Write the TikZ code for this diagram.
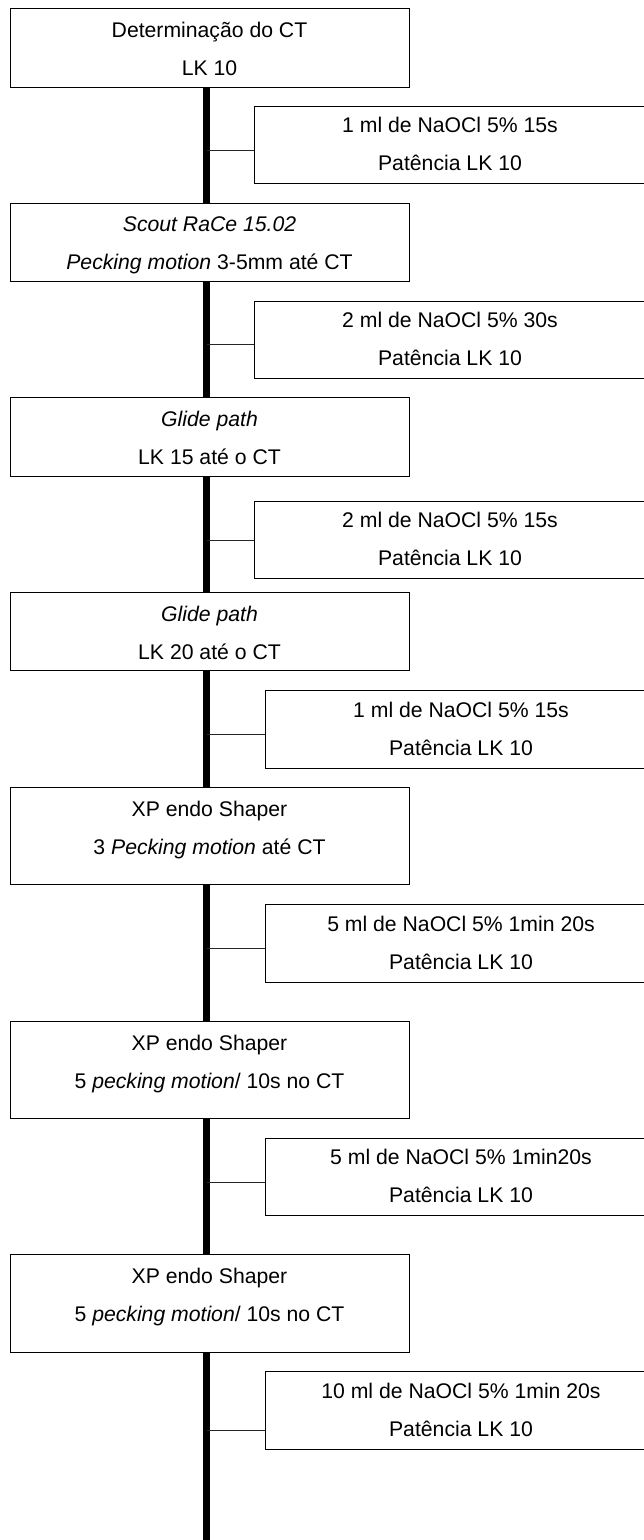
\documentclass[tikz,border=0pt]{standalone}
\usepackage{fontspec}
\setmainfont{Liberation Sans}
\begin{document}
\begin{tikzpicture}[x=1pt,y=-1pt,
  lbox/.style={draw, line width=1.3pt, rectangle, inner sep=0pt, anchor=north west, minimum width=399pt},
  rbox/.style={draw, line width=1.3pt, rectangle, inner sep=0pt, anchor=north west, minimum width=392pt, minimum height=77.5pt},
  txt/.style={anchor=base, inner sep=0pt, font=\fontsize{21.2}{25}\selectfont},
  spine/.style={line width=7pt},
  link/.style={line width=1pt, black!85}]
\useasboundingbox (0,0) rectangle (644,1540);
\clip (0,0) rectangle (644,1540);

% left (main) boxes
\node[lbox, minimum height=79pt]   (b1) at (10,8) {};
\node[lbox, minimum height=78.5pt] (b2) at (10,202.5) {};
\node[lbox, minimum height=79pt]   (b3) at (10,397) {};
\node[lbox, minimum height=78pt]   (b4) at (10,592) {};
\node[lbox, minimum height=97pt]   (b5) at (10,787) {};
\node[lbox, minimum height=97pt]   (b6) at (10,1021) {};
\node[lbox, minimum height=98pt]   (b7) at (10,1254) {};

\node[txt] (b1a) at (209.5,37) {Determinação do CT};
\node[txt] (b1b) at (209.5,75) {LK 10};
\node[txt] (b2a) at (209.5,231.5) {\textit{Scout RaCe 15.02}};
\node[txt] (b2b) at (209.5,269.5) {\textit{Pecking motion} 3-5mm até CT};
\node[txt] (b3a) at (209.5,426) {\textit{Glide path}};
\node[txt] (b3b) at (209.5,464) {LK 15 até o CT};
\node[txt] (b4a) at (209.5,621) {\textit{Glide path}};
\node[txt] (b4b) at (209.5,659) {LK 20 até o CT};
\node[txt] (b5a) at (209.5,816) {XP endo Shaper};
\node[txt] (b5b) at (209.5,854) {3 \textit{Pecking motion} até CT};
\node[txt] (b6a) at (209.5,1050) {XP endo Shaper};
\node[txt] (b6b) at (209.5,1088) {5 \textit{pecking motion}/ 10s no CT};
\node[txt] (b7a) at (209.5,1283) {XP endo Shaper};
\node[txt] (b7b) at (209.5,1321) {5 \textit{pecking motion}/ 10s no CT};

% right (irrigation) boxes
\node[rbox] (r1) at (254,105.5) {};
\node[rbox] (r2) at (254,300.5) {};
\node[rbox] (r3) at (254,500.5) {};
\node[rbox] (r4) at (265,690) {};
\node[rbox] (r5) at (265,904) {};
\node[rbox] (r6) at (265,1137.5) {};
\node[rbox] (r7) at (265,1371) {};

\node[txt] (r1a) at (450,132.5) {1 ml de NaOCl 5\% 15s};
\node[txt] (r1b) at (450,170.5) {Patência LK 10};
\node[txt] (r2a) at (450,327.5) {2 ml de NaOCl 5\% 30s};
\node[txt] (r2b) at (450,365.5) {Patência LK 10};
\node[txt] (r3a) at (450,527.5) {2 ml de NaOCl 5\% 15s};
\node[txt] (r3b) at (450,565.5) {Patência LK 10};
\node[txt] (r4a) at (461,717) {1 ml de NaOCl 5\% 15s};
\node[txt] (r4b) at (461,755) {Patência LK 10};
\node[txt] (r5a) at (461,931) {5 ml de NaOCl 5\% 1min 20s};
\node[txt] (r5b) at (461,969) {Patência LK 10};
\node[txt] (r6a) at (461,1164.5) {5 ml de NaOCl 5\% 1min20s};
\node[txt] (r6b) at (461,1202.5) {Patência LK 10};
\node[txt] (r7a) at (461,1398) {10 ml de NaOCl 5\% 1min 20s};
\node[txt] (r7b) at (461,1436) {Patência LK 10};

% spine
\coordinate (ax) at (206.5,0);
\coordinate (end) at (206.5,1540);
\draw[spine] (b1.south -| ax) -- (b2.north -| ax);
\draw[spine] (b2.south -| ax) -- (b3.north -| ax);
\draw[spine] (b3.south -| ax) -- (b4.north -| ax);
\draw[spine] (b4.south -| ax) -- (b5.north -| ax);
\draw[spine] (b5.south -| ax) -- (b6.north -| ax);
\draw[spine] (b6.south -| ax) -- (b7.north -| ax);
\draw[spine] (b7.south -| ax) -- (end);

% side links
\coordinate (k1) at (206.5,150.5);
\coordinate (k2) at (206.5,344);
\coordinate (k3) at (206.5,540);
\coordinate (k4) at (206.5,734);
\coordinate (k5) at (206.5,948.5);
\coordinate (k6) at (206.5,1182);
\coordinate (k7) at (206.5,1430);
\draw[link] (k1) -- (k1 -| r1.west);
\draw[link] (k2) -- (k2 -| r2.west);
\draw[link] (k3) -- (k3 -| r3.west);
\draw[link] (k4) -- (k4 -| r4.west);
\draw[link] (k5) -- (k5 -| r5.west);
\draw[link] (k6) -- (k6 -| r6.west);
\draw[link] (k7) -- (k7 -| r7.west);
\end{tikzpicture}
\end{document}
